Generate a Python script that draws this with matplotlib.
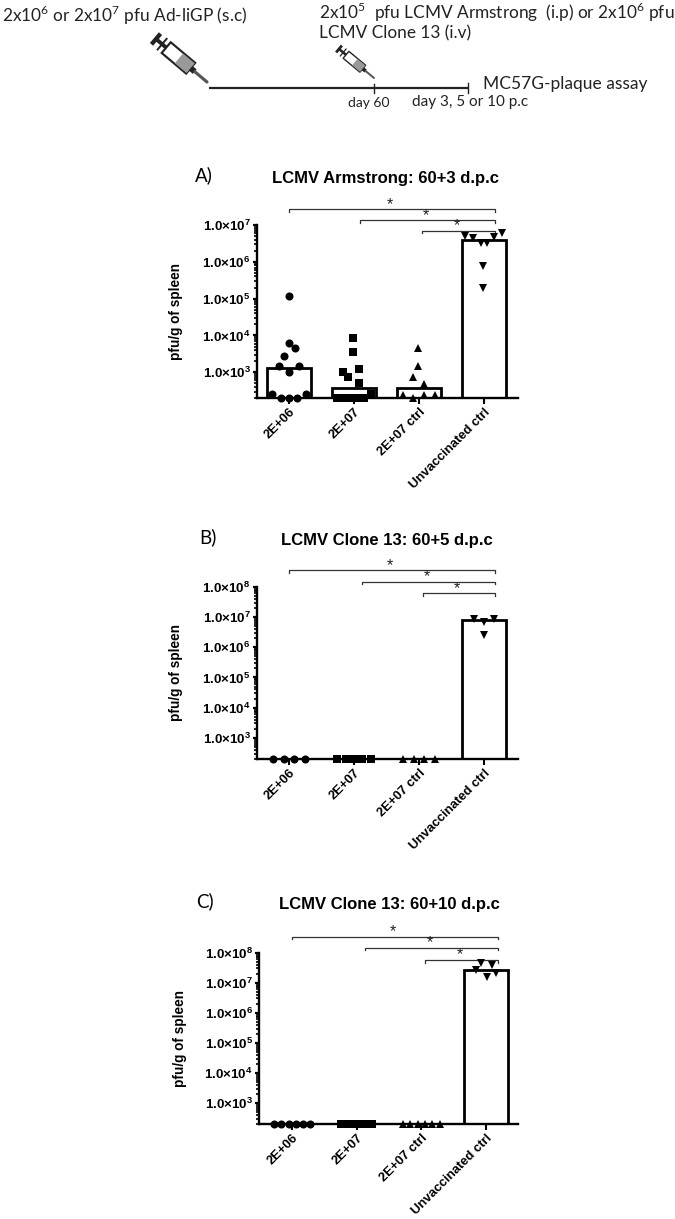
import numpy as np
import matplotlib
matplotlib.use("Agg")
import matplotlib.pyplot as plt
from matplotlib.patches import Polygon
from matplotlib.ticker import FixedLocator, FixedFormatter, NullFormatter

W, H = 675, 1219
plt.rcParams['font.family'] = ['Liberation Sans', 'DejaVu Sans']
plt.rcParams['mathtext.fontset'] = 'custom'
plt.rcParams['mathtext.bf'] = 'Liberation Sans:bold'
plt.rcParams['mathtext.rm'] = 'Lato'

categories = ["2E+06", "2E+07", "2E+07 ctrl", "Unvaccinated ctrl"]
markers = ["o", "s", "^", "v"]

# panel A
a_bars = [1300, 380, 380, 4.0e6]
a_vals = [
    [1.2e5, 6400, 4700, 2700, 1500, 1500, 1000, 250, 250, 200, 200, 200],
    [8400, 3500, 1250, 1000, 730, 500, 250, 200, 200, 200, 200, 200, 200],
    [4700, 1500, 730, 480, 240, 200, 240, 240],
    [6.0e6, 5.0e6, 4.4e6, 4.8e6, 3.3e6, 3.3e6, 7.8e5, 2.0e5],
]
a_offs = [
    [0, 0, 0.09, -0.08, -0.16, 0.16, 0, -0.26, 0.26, -0.13, 0, 0.13],
    [-0.02, -0.02, 0.07, -0.17, -0.09, 0.07, 0.26, -0.26, -0.17, -0.09, -0.01, 0.08, 0.16],
    [-0.01, -0.01, -0.09, 0.07, -0.25, -0.09, 0.07, 0.24],
    [0.27, -0.29, -0.17, 0.16, -0.04, 0.04, -0.01, -0.01],
]
# panel B
b_bars = [200, 200, 200, 8.0e6]
b_vals = [
    [200, 200, 200, 200],
    [200, 200, 200, 200, 200],
    [200, 200, 200, 200],
    [8.4e6, 8.8e6, 7.0e6, 2.55e6],
]
b_offs = [
    [-0.24, -0.08, 0.08, 0.24],
    [-0.26, -0.13, 0, 0.13, 0.26],
    [-0.24, -0.08, 0.08, 0.24],
    [-0.16, 0.15, 0, 0],
]
# panel C
c_bars = [200, 200, 200, 2.65e7]
c_vals = [
    [200] * 6,
    [200] * 9,
    [200] * 6,
    [4.4e7, 3.9e7, 2.65e7, 2.05e7, 1.5e7],
]
c_offs = [
    [-0.28, -0.17, -0.05, 0.06, 0.17, 0.28],
    [-0.24, -0.18, -0.12, -0.06, 0, 0.06, 0.12, 0.18, 0.24],
    [-0.28, -0.17, -0.05, 0.06, 0.17, 0.28],
    [-0.08, 0.09, -0.15, 0.16, 0.01],
]

panels = [
    dict(bars=a_bars, vals=a_vals, offs=a_offs, box=(257, 518, 225, 398), xlim=(-0.492, 3.523),
         decades=[3, 4, 5, 6, 7], title="LCMV Armstrong: 60+3 d.p.c", tpos=(386, 178),
         tag="A)", tagpos=(204, 175), ylab_x=183,
         brackets=[(0, 3.17, 1.093), (1.1, 3.17, 1.027), (2.05, 3.17, 0.967)]),
    dict(bars=b_bars, vals=b_vals, offs=b_offs, box=(257, 518, 586.7, 759), xlim=(-0.492, 3.523),
         decades=[3, 4, 5, 6, 7, 8], title="LCMV Clone 13: 60+5 d.p.c", tpos=(387, 540),
         tag="B)", tagpos=(208, 537), ylab_x=183,
         brackets=[(0, 3.17, 1.096), (1.12, 3.17, 1.03), (2.06, 3.17, 0.962)]),
    dict(bars=c_bars, vals=c_vals, offs=c_offs, box=(259.3, 518.3, 952.7, 1124), xlim=(-0.51, 3.5),
         decades=[3, 4, 5, 6, 7, 8], title="LCMV Clone 13: 60+10 d.p.c", tpos=(389, 905),
         tag="C)", tagpos=(205, 901), ylab_x=187,
         brackets=[(0, 3.19, 1.094), (1.12, 3.19, 1.03), (2.06, 3.19, 0.958)]),
]

fig = plt.figure(figsize=(W / 100, H / 100), dpi=100, facecolor="white")

# whole figure overlay in pixel coordinates for the schematic and headings
ov = fig.add_axes([0, 0, 1, 1], zorder=5)
ov.set_xlim(0, W)
ov.set_ylim(H, 0)
ov.axis("off")
ov.patch.set_alpha(0)

for p in panels:
    l, r, t, b = p["box"]
    ax = fig.add_axes([l / W, 1 - b / H, (r - l) / W, (b - t) / H])
    ax.set_yscale("log")
    ax.bar(range(4), p["bars"], width=0.69, facecolor="white", edgecolor="black", linewidth=2.0, zorder=2)
    for i in range(4):
        xs = [i + o for o in p["offs"][i]]
        ax.plot(xs, p["vals"][i], ls="none", marker=markers[i], color="black", ms=5.8,
                mew=0, clip_on=False, zorder=4)
    ax.set_xlim(*p["xlim"])
    ax.set_ylim(200, 10.0 ** p["decades"][-1])
    for s in ["top", "right"]:
        ax.spines[s].set_visible(False)
    for s in ["left", "bottom"]:
        ax.spines[s].set_linewidth(1.7)
    ax.set_xticks(range(4))
    ax.set_xticklabels(categories, rotation=45, ha="right", rotation_mode="anchor",
                       fontsize=9.4, fontweight="bold")
    ax.yaxis.set_major_locator(FixedLocator([10.0 ** d for d in p["decades"]]))
    ax.yaxis.set_major_formatter(FixedFormatter(
        [r"$\mathbf{1.0{\times}10^{%d}}$" % d for d in p["decades"]]))
    minors = [m * 10.0 ** d for d in range(2, p["decades"][-1]) for m in range(2, 10)]
    ax.yaxis.set_minor_locator(FixedLocator(minors))
    ax.yaxis.set_minor_formatter(NullFormatter())
    ax.tick_params(axis="y", which="major", length=3, width=1.6, labelsize=9.6, pad=1.5)
    ax.tick_params(axis="y", which="minor", length=2, width=1.2)
    ax.tick_params(axis="x", length=4, width=1.5, pad=2)
    ax.set_ylabel("pfu/g of spleen", fontsize=9.8, fontweight="bold")
    ax.yaxis.set_label_coords((p["ylab_x"] - l) / (r - l), 0.5)

    tr = ax.get_xaxis_transform()
    for x0, x1, yb in p["brackets"]:
        ax.plot([x0, x0, x1, x1], [yb - 0.016, yb, yb, yb - 0.016], color="#333333", lw=0.9,
                transform=tr, clip_on=False, zorder=3)
        ax.text((x0 + x1) / 2 - 0.03, yb - 0.016, "*", transform=tr, ha="center", va="bottom",
                fontsize=11.5, color="#222222")

    ov.text(p["tpos"][0], p["tpos"][1], p["title"], ha="center", va="center", fontsize=12, fontweight="bold")
    ov.text(p["tagpos"][0], p["tagpos"][1], p["tag"], ha="center", va="center", fontsize=13.5,
            family=["Lato", "DejaVu Sans"])


def syringe(x0, y0, x1, y1, w):
    # sketch of a syringe going from the plunger end (x0, y0) to the needle tip (x1, y1)
    d = np.array([x1 - x0, y1 - y0], float)
    length = np.hypot(*d)
    u = d / length
    n = np.array([-u[1], u[0]])
    p0 = np.array([x0, y0], float)

    def pt(f, s):
        return p0 + u * f * length + n * s * w

    ov.plot(*zip(pt(0, -0.5), pt(0, 0.5)), color="#222222", lw=w * 0.22, solid_capstyle="butt")
    ov.plot(*zip(pt(0, 0), pt(0.2, 0)), color="#222222", lw=w * 0.2, solid_capstyle="butt")
    ov.plot(*zip(pt(0.12, -0.5), pt(0.12, 0.5)), color="#222222", lw=w * 0.1)
    ov.add_patch(Polygon([pt(0.2, -0.5), pt(0.68, -0.5), pt(0.68, 0.5), pt(0.2, 0.5)],
                         facecolor="white", edgecolor="#222222", lw=w * 0.11))
    ov.add_patch(Polygon([pt(0.45, -0.45), pt(0.68, -0.45), pt(0.68, 0.45), pt(0.45, 0.45)],
                         facecolor="#999999", edgecolor="none"))
    ov.plot(*zip(pt(0.68, 0), pt(0.76, 0)), color="#222222", lw=w * 0.3, solid_capstyle="butt")
    ov.plot(*zip(pt(0.76, 0), pt(1, 0)), color="#555555", lw=w * 0.16, solid_capstyle="round")


syringe(156, 39, 207, 82, 14)
syringe(339, 49, 374, 78, 9)

ov.plot([209, 468], [88, 88], color="#222222", lw=1.6, solid_capstyle="butt")
ov.plot([374, 374], [84, 93], color="#222222", lw=1.0)
ov.plot([468, 468], [83, 93], color="#222222", lw=1.0)

sf = ["Lato", "DejaVu Sans"]
ov.text(2, 15, r"2x10$^{6}$ or 2x10$^{7}$ pfu Ad-liGP (s.c)", fontsize=12.4, va="center", family=sf, color="#222222")
ov.text(319, 12, r"2x10$^{5}$  pfu LCMV Armstrong  (i.p) or 2x10$^{6}$ pfu", fontsize=12.4, va="center", family=sf, color="#222222")
ov.text(319, 33, "LCMV Clone 13 (i.v)", fontsize=12.4, va="center", family=sf, color="#222222")
ov.text(483, 84, "MC57G-plaque assay", fontsize=12.5, va="center", family=sf, color="#222222")
ov.text(369, 103, "day 60", fontsize=10, va="center", ha="center", family=sf, color="#222222")
ov.text(470, 102, "day 3, 5 or 10 p.c", fontsize=11, va="center", ha="center", family=sf, color="#222222")

fig.savefig("out.png", dpi=100)
